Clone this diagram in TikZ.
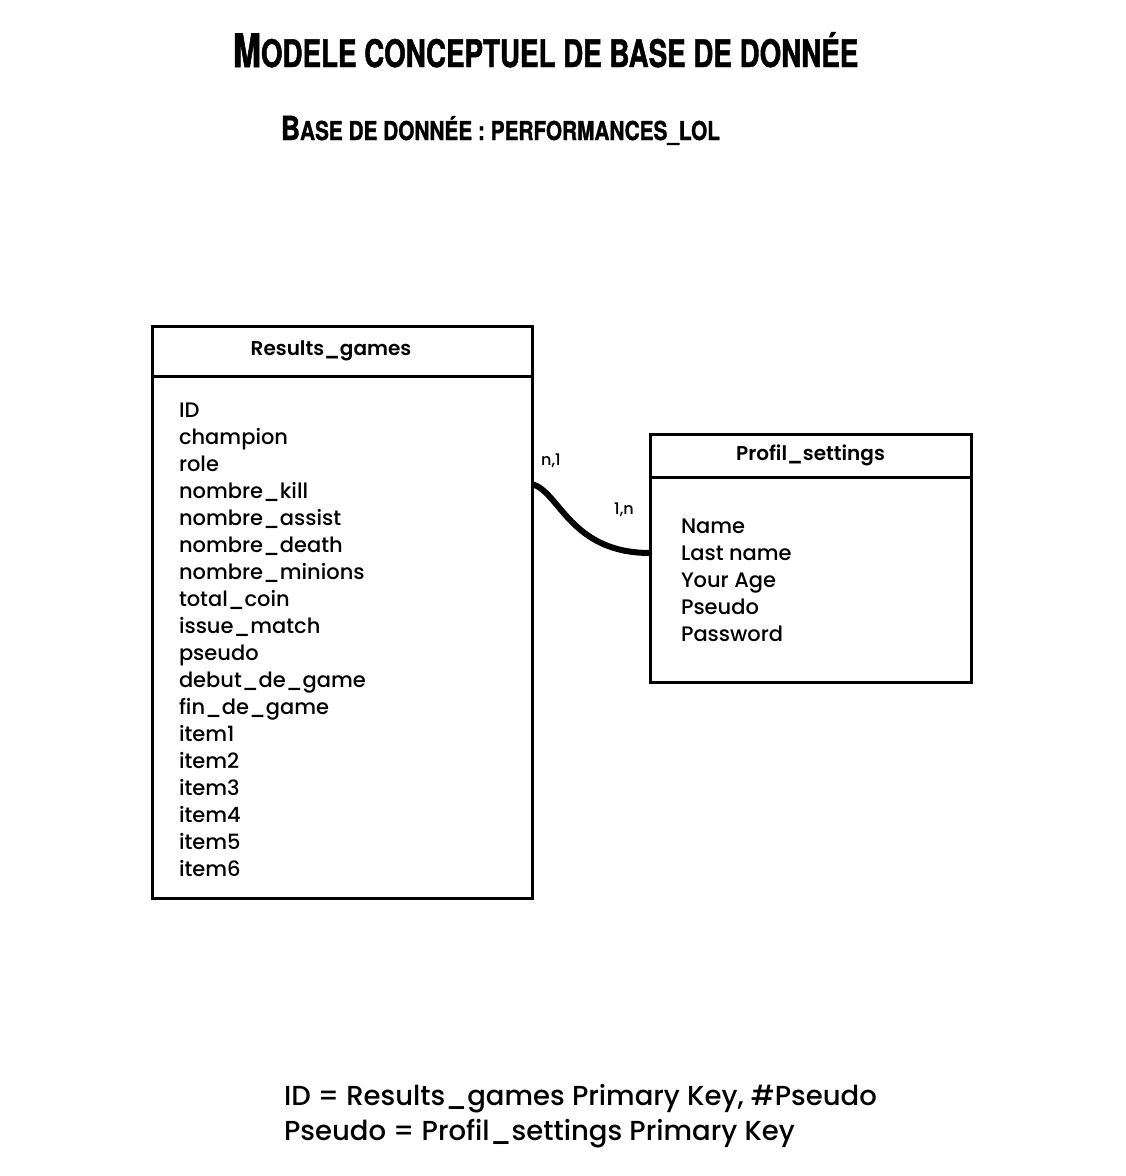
\documentclass[tikz,border=0pt]{standalone}
\usepackage{fontspec}
\setmainfont{Poppins}
\newfontfamily\fieldfont{Poppins Medium}
\newfontfamily\headfont{Poppins SemiBold}
\newfontfamily\titlefont[FakeStretch=0.73, FakeBold=1.2]{TeX Gyre Heros}
\newfontfamily\subtitlefont[FakeStretch=0.80, FakeBold=1.2]{TeX Gyre Heros}
\usetikzlibrary{positioning}

\begin{document}
\begin{tikzpicture}[x=1pt,y=-1pt]
    \tikzstyle{every node}=[inner sep=0pt, outer sep=0pt]
    \tikzstyle{head}=[draw, line width=3pt, font=\headfont\fontsize{20}{20}\selectfont]
    \tikzstyle{body}=[draw, line width=3pt]
    \tikzstyle{fields}=[align=left, anchor=north west, font=\fieldfont\fontsize{21}{27}\selectfont]
    \tikzstyle{card}=[font=\fieldfont\fontsize{16}{16}\selectfont]
    \useasboundingbox (0,0) rectangle (1126,1176);

    % titles
    \node[anchor=base west] (title) at (233,67) {\titlefont\bfseries\fontsize{46}{46}\selectfont M\fontsize{38}{38}\selectfont ODELE CONCEPTUEL DE BASE DE DONNÉE};
    \node[anchor=base west] (subtitle) at (281,140) {\subtitlefont\bfseries\fontsize{33}{33}\selectfont B\fontsize{26}{26}\selectfont ASE DE DONNÉE : PERFORMANCES\_LOL};

    % entities
    \node[head, minimum width=380pt, minimum height=50pt] (gameshead) at (342,351) {\hspace*{-22pt}Results\_games};
    \node[body, minimum width=380pt, minimum height=522pt, below=0pt of gameshead] (gamesbody) {};
    \node[fields] (gameslist) at (179,403) {ID\\champion\\role\\nombre\_kill\\nombre\_assist\\nombre\_death\\nombre\_minions\\total\_coin\\issue\_match\\pseudo\\debut\_de\_game\\fin\_de\_game\\item1\\item2\\item3\\item4\\item5\\item6};

    \node[head, minimum width=321pt, minimum height=43pt] (profilhead) at (810.5,455.5) {Profil\_settings};
    \node[body, minimum width=321pt, minimum height=205pt, below=0pt of profilhead] (profilbody) {};
    \node[fields] (profillist) at (681,519) {Name\\Last name\\Your Age\\Pseudo\\Password};

    % association
    \draw[line width=6pt] ([yshift=-108pt]gamesbody.north east) .. controls +(28,8) and +(-80,0) .. ([yshift=-76pt]profilbody.north west);
    \node[card] (cardgames) at (551,461) {n,1};
    \node[card] (cardprofil) at (624,510) {1,n};

    % keys
    \node[anchor=base west, font=\fieldfont\fontsize{27.5}{27.5}\selectfont] (keygames) at (284,1105) {ID = Results\_games Primary Key, \#Pseudo};
    \node[anchor=base west, font=\fieldfont\fontsize{27.5}{27.5}\selectfont] (keyprofil) at (284,1140) {Pseudo = Profil\_settings Primary Key};
\end{tikzpicture}
\end{document}
